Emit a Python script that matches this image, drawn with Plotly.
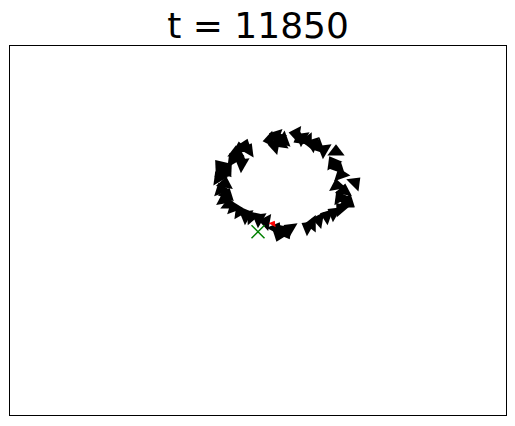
import plotly.graph_objects as go

# Boid positions (world units) and headings (degrees clockwise from up)
boid_x = [260, 266, 271, 265, 274, 268,
          286, 292, 298, 303, 309, 314, 290,
          326,
          323, 328, 331, 345, 327, 334, 330,
          336, 331, 324, 338,
          317, 309, 302, 298,
          280, 274, 269, 266, 276,
          256, 249, 242, 236, 230, 224,
          219, 214, 217, 211, 215, 209, 213, 210, 217,
          223, 226, 230, 235, 229, 238, 232]
boid_y = [275.5, 279.5, 272.5, 269.5, 275.5, 277.5,
          281.5, 277.5, 274.5, 271.5, 268.5, 265.5, 276.5,
          263.5,
          252.5, 247.5, 240.5, 232.5, 229.5, 224.5, 217.5,
          211.5, 206.5, 202.5, 214.5,
          199.5, 195.5, 191.5, 188.5,
          186.5, 184.5, 180.5, 186.5, 182.5,
          193.5, 196.5, 198.5, 199.5, 203.5, 207.5,
          210.5, 215.5, 220.5, 225.5, 231.5, 237.5, 242.5, 249.5, 246.5,
          255.5, 262.5, 266.5, 269.5, 258.5, 265.5, 251.5]
boid_angle = [260, 290, 240, 280, 250, 320,
              280, 300, 270, 290, 250, 300, 240,
              0,
              330, 20, 340, 45, 350, 10, 330,
              0, 320, 300, 20,
              290, 280, 270, 300,
              300, 320, 200, 30, 150,
              280, 300, 320, 300, 330, 340,
              0, 350, 20, 340, 10, 330, 0, 320, 40,
              330, 0, 350, 20, 10, 30, 300]

leader_x = [263]
leader_y = [191.5]
leader_angle = [30]

target_x = [248]
target_y = [183.5]

title_text = "t = 11850"

fig = go.Figure()
fig.add_trace(go.Scatter(
    x=boid_x, y=boid_y, mode="markers",
    marker=dict(symbol="triangle-up", size=15, angle=boid_angle, color="black",
                line=dict(width=0)),
    hoverinfo="skip", showlegend=False))
fig.add_trace(go.Scatter(
    x=leader_x, y=leader_y, mode="markers",
    marker=dict(symbol="triangle-up", size=7, angle=leader_angle, color="red",
                line=dict(width=0)),
    hoverinfo="skip", showlegend=False))
fig.add_trace(go.Scatter(
    x=target_x, y=target_y, mode="markers",
    marker=dict(symbol="x-thin", size=13, color="green",
                line=dict(width=1.5, color="green")),
    hoverinfo="skip", showlegend=False))

axis_style = dict(showgrid=False, zeroline=False, showticklabels=False,
                  ticks="", showline=True, linecolor="black", linewidth=1,
                  mirror=True)
fig.update_xaxes(range=[0, 496], **axis_style)
fig.update_yaxes(range=[0, 369.5], **axis_style)

fig.update_layout(
    width=515, height=426,
    margin=dict(l=10, r=9, t=46, b=11),
    paper_bgcolor="white", plot_bgcolor="white",
    title=dict(text=title_text, x=0.5, xanchor="center", xref="paper",
               y=1 - 25 / 426, yanchor="middle", yref="container",
               font=dict(family="DejaVu Sans", size=36, color="black")),
)

fig.write_html("out.html")
